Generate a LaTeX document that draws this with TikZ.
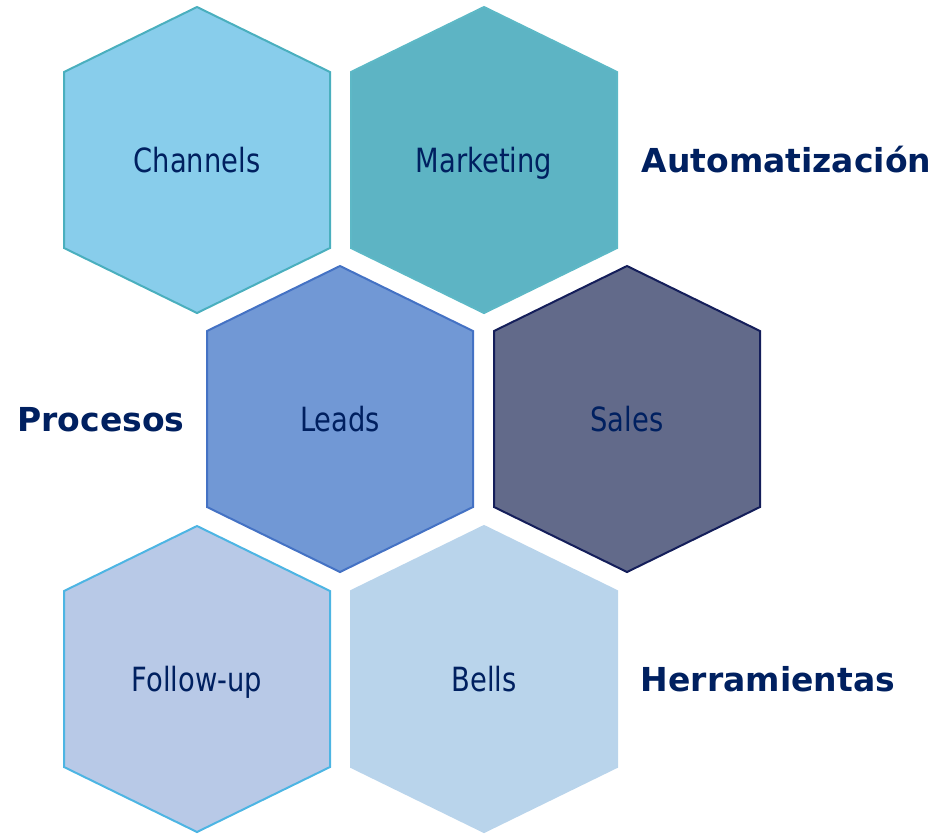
\documentclass[tikz,border=0pt]{standalone}
\usepackage{fontspec}
\setmainfont{DejaVu Sans}
\newfontfamily\hexfont{DejaVu Sans}[FakeStretch=0.82]
\usetikzlibrary{positioning}

\definecolor{navytext}{HTML}{002060}
\definecolor{fillchan}{HTML}{88CDEB}  \definecolor{linechan}{HTML}{4AAFBE}
\definecolor{fillmkt}{HTML}{5DB4C4}   \definecolor{linemkt}{HTML}{5DB8C6}
\definecolor{fillleads}{HTML}{7198D5} \definecolor{lineleads}{HTML}{4472C4}
\definecolor{fillsales}{HTML}{626A8A} \definecolor{linesales}{HTML}{141E5A}
\definecolor{fillfollow}{HTML}{B8C9E7}\definecolor{linefollow}{HTML}{4DB5E3}
\definecolor{fillbells}{HTML}{B9D4EB} \definecolor{linebells}{HTML}{B9D4EB}

\begin{document}
\begin{tikzpicture}[x=0.75pt,y=-0.75pt,
  hexedge/.style={line width=1.5pt, line join=miter},
  hexcell/.style={minimum width=199.5pt, minimum height=229.5pt, inner sep=0pt,
    text=navytext, font=\hexfont\fontsize{25}{30}\selectfont,
    text height=18.2pt, text depth=0pt},
  sidelabel/.style={inner sep=0pt, text=navytext,
    font=\fontsize{24.75}{30}\selectfont\bfseries, text height=18pt, text depth=0pt}]
  \useasboundingbox (0,0) rectangle (946,833);
  % honeycomb: two cells per row, middle row shifted right
  \foreach \name/\cx/\cy/\txt in {chan/197/160/Channels, mkt/484/160/Marketing,
      leads/340/419/Leads, sales/627/419/Sales,
      follow/197/679/Follow-up, bells/484/679/Bells} {
    \filldraw[hexedge, fill=fill\name, draw=line\name] (\cx,\cy)
      +(0,-153) -- +(133,-88) -- +(133,88) -- +(0,153) -- +(-133,88) -- +(-133,-88) -- cycle;
    \node[hexcell] (\name) at (\cx,\cy) {\txt};
  }
  % side captions
  \node[sidelabel, right=18pt of mkt] (auto) {Automatización};
  \node[sidelabel, left=16.5pt of leads] (proc) {Procesos};
  \node[sidelabel, right=17.5pt of bells] (tools) {Herramientas};
\end{tikzpicture}
\end{document}
